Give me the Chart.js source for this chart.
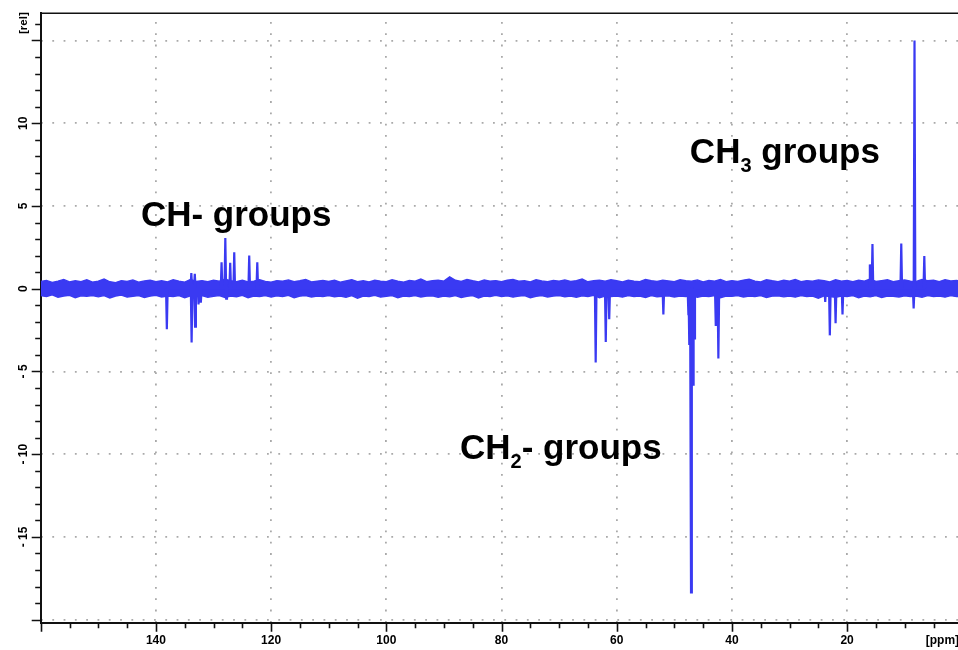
<!DOCTYPE html>
<html>
<head>
<meta charset="utf-8">
<script src="https://cdn.jsdelivr.net/npm/chart.js@4.4.1/dist/chart.umd.min.js"></script>
<style>
  html, body { margin: 0; padding: 0; background: #fff; }
  #wrap { width: 958px; height: 650px; position: relative; }
</style>
</head>
<body>
<div id="wrap"><canvas id="c"></canvas></div>
<script>
// ---------------- data ----------------
// baseline noise envelope (ppm grid, upper and lower edge of noise band, rel units)
const noisePpm = [
  160,159,158,157,156,155,154,153,152,151,
  150,149,148,147,146,145,144,143,142,141,
  140,139,138,137,136,135,134,133,132,131,
  130,129,128,127,126,125,124,123,122,121,
  120,119,118,117,116,115,114,113,112,111,
  110,109,108,107,106,105,104,103,102,101,
  100,99,98,97,96,95,94,93,92,91,
  90,89,88,87,86,85,84,83,82,81,
  80,79,78,77,76,75,74,73,72,71,
  70,69,68,67,66,65,64,63,62,61,
  60,59,58,57,56,55,54,53,52,51,
  50,49,48,47,46,45,44,43,42,41,
  40,39,38,37,36,35,34,33,32,31,
  30,29,28,27,26,25,24,23,22,21,
  20,19,18,17,16,15,14,13,12,11,
  10,9,8,7,6,5,4,3,2,1,
  0
];
const noiseUpper = [
  0.44,0.50,0.38,0.46,0.56,0.41,0.48,0.43,0.54,0.40,
  0.46,0.58,0.42,0.37,0.49,0.44,0.53,0.39,0.47,0.51,
  0.43,0.48,0.41,0.54,0.46,0.40,0.56,0.44,0.49,0.42,
  0.51,0.45,0.58,0.48,0.43,0.52,0.41,0.46,0.54,0.44,
  0.40,0.49,0.45,0.53,0.42,0.48,0.56,0.41,0.46,0.50,
  0.44,0.52,0.39,0.47,0.55,0.43,0.48,0.41,0.51,0.46,
  0.42,0.54,0.46,0.40,0.50,0.45,0.58,0.43,0.48,0.52,
  0.46,0.72,0.51,0.44,0.56,0.48,0.41,0.53,0.46,0.49,
  0.43,0.51,0.56,0.45,0.48,0.41,0.54,0.47,0.42,0.50,
  0.46,0.53,0.44,0.49,0.58,0.42,0.48,0.51,0.45,0.54,
  0.48,0.41,0.52,0.46,0.43,0.56,0.49,0.44,0.51,0.47,
  0.42,0.54,0.48,0.45,0.53,0.41,0.50,0.46,0.56,0.43,
  0.49,0.44,0.52,0.58,0.46,0.41,0.54,0.48,0.43,0.51,
  0.46,0.56,0.42,0.49,0.45,0.53,0.48,0.41,0.54,0.46,
  0.50,0.43,0.51,0.46,0.58,0.44,0.49,0.54,0.42,0.48,
  0.53,0.46,0.44,0.56,0.48,0.51,0.43,0.54,0.47,0.50,
  0.46
];
const noiseLower = [
  -0.42,-0.48,-0.37,-0.51,-0.44,-0.40,-0.54,-0.43,-0.46,-0.41,
  -0.49,-0.41,-0.56,-0.44,-0.39,-0.51,-0.46,-0.42,-0.53,-0.45,
  -0.40,-0.50,-0.44,-0.47,-0.41,-0.55,-0.43,-0.48,-0.42,-0.52,
  -0.46,-0.41,-0.53,-0.45,-0.49,-0.40,-0.54,-0.44,-0.47,-0.42,
  -0.51,-0.43,-0.48,-0.40,-0.55,-0.45,-0.42,-0.50,-0.44,-0.47,
  -0.41,-0.49,-0.45,-0.52,-0.42,-0.58,-0.44,-0.47,-0.40,-0.51,
  -0.46,-0.42,-0.54,-0.44,-0.48,-0.41,-0.50,-0.45,-0.43,-0.52,
  -0.44,-0.49,-0.41,-0.53,-0.46,-0.42,-0.56,-0.44,-0.48,-0.40,
  -0.47,-0.43,-0.51,-0.45,-0.41,-0.54,-0.46,-0.42,-0.50,-0.44,
  -0.41,-0.49,-0.45,-0.52,-0.43,-0.47,-0.40,-0.55,-0.44,-0.48,
  -0.45,-0.51,-0.42,-0.47,-0.44,-0.53,-0.41,-0.49,-0.46,-0.43,
  -0.50,-0.44,-0.47,-0.41,-0.52,-0.45,-0.48,-0.42,-0.55,-0.44,
  -0.46,-0.42,-0.50,-0.44,-0.48,-0.41,-0.53,-0.45,-0.43,-0.49,
  -0.44,-0.51,-0.42,-0.47,-0.45,-0.58,-0.43,-0.48,-0.52,-0.44,
  -0.47,-0.41,-0.55,-0.45,-0.49,-0.42,-0.53,-0.44,-0.46,-0.50,
  -0.43,-0.48,-0.44,-0.52,-0.41,-0.47,-0.45,-0.51,-0.42,-0.48,
  -0.45
];
// signals: chemical shift (ppm) and intensity (rel)
const peakPpm = [
  138.1, 133.85, 133.8, 133.25, 133.2, 132.6, 132.2,
  128.6, 127.95, 127.8, 127.1, 126.4, 123.8, 122.4,
  63.65, 61.9, 61.3, 51.9,
  47.55, 47.4, 47.1, 46.75, 46.55,
  42.8, 42.35,
  23.8, 23.0, 22.0, 20.8,
  16.05, 15.6, 10.6, 8.45, 8.3, 6.6
];
const peakHeight = [
  -2.45, 0.95, -3.25, 0.9, -2.3, -0.95, -0.85,
  1.6, 3.07, -0.6, 1.57, 2.2, 2.0, 1.6,
  -4.46, -3.22, -1.85, -1.55,
  -1.6, -3.4, -18.35, -5.8, -3.0,
  -2.25, -4.22,
  -0.8, -2.82, -2.09, -1.55,
  1.47, 2.7, 2.73, -1.2, 15.0, 1.97
];
// axis ticks
const xTickValues = [160,155,150,145,140,135,130,125,120,115,110,105,100,95,90,85,80,75,70,65,60,55,50,45,40,35,30,25,20,15,10,5];
const xLabelValues = [140,120,100,80,60,40,20];
const xUnitLabel = '[ppm]';
const yTickValues = [-20,-19,-18,-17,-16,-15,-14,-13,-12,-11,-10,-9,-8,-7,-6,-5,-4,-3,-2,-1,0,1,2,3,4,5,6,7,8,9,10,11,12,13,14,15,16];
const yLabelValues = [-15,-10,-5,0,5,10];
const yLabelText = ['- 15','- 10','- 5','0','5','10'];
const yUnitLabel = '[rel]';
// annotations (text, anchor ppm, anchor rel value)
const annotations = [
  {pre: 'CH', sub: '', post: '- groups', ppm: 142.6, val: 3.78},
  {pre: 'CH', sub: '3', post: ' groups', ppm: 47.3, val: 7.6},
  {pre: 'CH', sub: '2', post: '- groups', ppm: 87.2, val: -10.3}
];

// ---------------- styling ----------------
const BLUE = 'rgb(58,58,242)';
const FONT = "'Liberation Sans', Arial, sans-serif";
const X_MIN = 0.75, X_MAX = 160, Y_MIN = -20.22, Y_MAX = 16.68;

const bandUpper = noisePpm.map((p, i) => ({x: p, y: noiseUpper[i]}));
const bandLower = noisePpm.map((p, i) => ({x: p, y: noiseLower[i]}));
const HW = 0.14;
const peakPoints = [];
peakPpm.forEach((p, i) => {
  peakPoints.push({x: p + HW, y: 0});
  peakPoints.push({x: p, y: peakHeight[i]});
  peakPoints.push({x: p - HW, y: 0});
});

const frameAndLabels = {
  id: 'frameAndLabels',
  afterDraw(chart) {
    const {ctx, chartArea: a, scales: {x, y}} = chart;
    ctx.save();
    ctx.strokeStyle = '#111';
    ctx.lineWidth = 1.6;
    ctx.beginPath();
    xTickValues.forEach(v => {
      const px = Math.round(x.getPixelForValue(v)) + 0.5;
      const len = v % 20 === 0 ? 8.5 : 5;
      ctx.moveTo(px, a.bottom); ctx.lineTo(px, a.bottom + len);
    });
    yTickValues.forEach(v => {
      const py = Math.round(y.getPixelForValue(v)) + 0.5;
      const len = v % 5 === 0 ? 9 : 5.5;
      ctx.moveTo(a.left - len, py); ctx.lineTo(a.left, py);
    });
    ctx.stroke();
    // top frame line
    ctx.lineWidth = 1.4;
    ctx.beginPath();
    ctx.moveTo(a.left, a.top + 0.5); ctx.lineTo(a.right, a.top + 0.5);
    ctx.stroke();

    // y labels (rotated)
    ctx.fillStyle = '#000';
    ctx.font = 'bold 12px ' + FONT;
    ctx.textAlign = 'center';
    ctx.textBaseline = 'middle';
    const lx = 23.5;
    yLabelValues.forEach((v, i) => {
      const py = y.getPixelForValue(v);
      ctx.save(); ctx.translate(lx, py); ctx.rotate(-Math.PI / 2);
      ctx.fillText(yLabelText[i], 0, 0); ctx.restore();
    });
    ctx.save(); ctx.font = 'bold 11.5px ' + FONT;
    ctx.translate(lx, y.getPixelForValue(16.05)); ctx.rotate(-Math.PI / 2);
    ctx.fillText(yUnitLabel, 0, 0); ctx.restore();

    // x unit label
    ctx.textAlign = 'center';
    ctx.textBaseline = 'top';
    ctx.font = 'bold 12px ' + FONT;
    ctx.fillText(xUnitLabel, x.getPixelForValue(3.45), a.bottom + 11);

    // annotations
    ctx.textAlign = 'left';
    ctx.textBaseline = 'alphabetic';
    annotations.forEach(an => {
      let px = x.getPixelForValue(an.ppm);
      const py = y.getPixelForValue(an.val);
      ctx.font = 'bold 35px ' + FONT;
      ctx.fillText(an.pre, px, py);
      px += ctx.measureText(an.pre).width;
      if (an.sub) {
        ctx.font = 'bold 20px ' + FONT;
        ctx.fillText(an.sub, px, py + 9);
        px += ctx.measureText(an.sub).width;
      }
      ctx.font = 'bold 35px ' + FONT;
      ctx.fillText(an.post, px, py);
    });
    ctx.restore();
  }
};

const gridCol = 'rgba(160,160,160,0.9)';
new Chart(document.getElementById('c'), {
  type: 'line',
  data: {
    datasets: [
      {data: peakPoints, borderColor: BLUE, borderWidth: 2.2, pointRadius: 0, fill: false, tension: 0},
      {data: bandUpper, borderColor: BLUE, borderWidth: 1.4, pointRadius: 0, fill: '+1', backgroundColor: BLUE, tension: 0},
      {data: bandLower, borderColor: BLUE, borderWidth: 1.4, pointRadius: 0, fill: false, tension: 0}
    ]
  },
  options: {
    responsive: true,
    maintainAspectRatio: false,
    animation: false,
    events: [],
    layout: {padding: {top: 12.7, left: 0, right: 0, bottom: 0}},
    plugins: {legend: {display: false}, tooltip: {enabled: false}},
    scales: {
      x: {
        type: 'linear', reverse: true, min: X_MIN, max: X_MAX, z: 1,
        afterBuildTicks: s => { s.ticks = xTickValues.map(v => ({value: v})); },
        afterFit: s => { s.height = 26.7; },
        grid: {
          color: c => (c.tick && c.tick.value % 20 === 0 && c.tick.value !== 160) ? gridCol : 'rgba(0,0,0,0)',
          lineWidth: 1.8, tickLength: 8, tickColor: 'rgba(0,0,0,0)'
        },
        border: {display: true, color: '#111', width: 2, dash: [1.8, 9.5], dashOffset: 2},
        ticks: {
          autoSkip: false, maxRotation: 0, minRotation: 0, padding: 2, color: '#000',
          font: {family: FONT, size: 12, weight: 'bold'},
          callback: v => xLabelValues.includes(v) ? String(v) : ''
        }
      },
      y: {
        type: 'linear', min: Y_MIN, max: Y_MAX, z: 1,
        afterBuildTicks: s => { s.ticks = yTickValues.map(v => ({value: v})); },
        afterFit: s => { s.width = 40.7; },
        grid: {
          color: c => (c.tick && c.tick.value % 5 === 0) ? gridCol : 'rgba(0,0,0,0)',
          lineWidth: 1.8, drawTicks: false
        },
        border: {display: true, color: '#111', width: 2, dash: [1.8, 9.5], dashOffset: 1},
        ticks: {display: false}
      }
    }
  },
  plugins: [frameAndLabels]
});
</script>
</body>
</html>
